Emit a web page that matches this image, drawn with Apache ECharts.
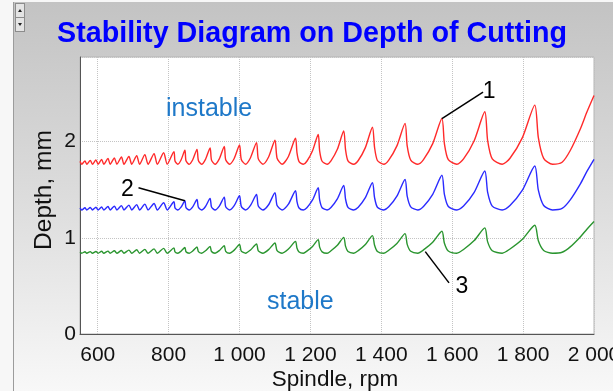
<!DOCTYPE html>
<html>
<head>
<meta charset="utf-8">
<script src="https://cdn.jsdelivr.net/npm/echarts@6/dist/echarts.min.js"></script>
<style>
html, body { margin: 0; padding: 0; background: #f7f7f7; }
.frame {
  position: absolute; left: 13px; top: 2px; width: 600px; height: 389px;
  border-left: 1px solid #9c9c9c;
  background: linear-gradient(to bottom, #c3c3c3 0%, #dcdcdc 50%, #f8f8f8 100%);
}
.spin {
  position: absolute; left: 15px; top: 3px; width: 8px; height: 27px;
  border: 1px solid #8c8c8c; background: #e4e4e4;
}
.spin i {
  position: absolute; left: 2px; width: 0; height: 0;
  border-left: 2px solid transparent; border-right: 2px solid transparent;
}
.spin .up { top: 5px; border-bottom: 3px solid #222; }
.spin .down { top: 19px; border-top: 3px solid #222; }
.spin .mid { position: absolute; left: 0; top: 13px; width: 8px; height: 1px; background: #8c8c8c; }
#chart { position: absolute; left: 0; top: 0; width: 613px; height: 391px; }
</style>
</head>
<body>
<div class="frame"></div>
<div class="spin"><i class="up"></i><span class="mid"></span><i class="down"></i></div>
<div id="chart"></div>
<script>
// spindle speed, rpm (lobe cusps and points on the lobes between them)
var rpm = [550,
  555, 564, 569, 579, 585, 595, 601, 611, 617, 629, 635, 647, 654, 667, 674, 688, 696, 710, 718, 733, 742, 759, 768, 786, 796, 815,
  818, 826, 835, 846, 849, 858, 868, 880, 884, 893, 904, 917, 921, 931, 943, 957, 961, 972, 985, 1000,
  1005, 1017, 1031, 1048, 1053, 1066, 1082, 1100, 1106, 1120, 1138, 1158,
  1162, 1168, 1180, 1190, 1206, 1222, 1226, 1233, 1247, 1258, 1276, 1294, 1299, 1306, 1322, 1335, 1355, 1375,
  1381, 1389, 1407, 1421, 1444, 1467, 1473, 1483, 1503, 1519, 1545, 1571, 1578, 1589, 1613, 1632, 1662, 1692,
  1700, 1713, 1741, 1763, 1798, 1833,
  1843, 1858, 1883, 1910, 1933, 1962, 1980, 2000]

// depth of cutting, mm
var curve1 = [1.795,
  1.765, 1.80, 1.765, 1.805, 1.765, 1.81, 1.765, 1.815, 1.765, 1.825, 1.765, 1.83, 1.765, 1.84, 1.765, 1.845, 1.765, 1.855, 1.765, 1.865, 1.765, 1.875, 1.765, 1.885, 1.765, 1.895,
  1.798, 1.765, 1.809, 1.91, 1.801, 1.765, 1.812, 1.92, 1.804, 1.765, 1.816, 1.935, 1.808, 1.765, 1.821, 1.95, 1.811, 1.765, 1.825, 1.965,
  1.815, 1.765, 1.833, 1.99, 1.821, 1.765, 1.84, 2.015, 1.828, 1.765, 1.846, 2.035,
  1.887, 1.792, 1.765, 1.796, 1.905, 2.075, 1.905, 1.796, 1.765, 1.80, 1.92, 2.11, 1.92, 1.80, 1.765, 1.804, 1.938, 2.15,
  1.938, 1.804, 1.765, 1.808, 1.956, 2.19, 1.956, 1.808, 1.765, 1.813, 1.979, 2.24, 1.979, 1.812, 1.765, 1.82, 2.01, 2.31,
  2.01, 1.82, 1.765, 1.827, 2.042, 2.38,
  2.042, 1.826, 1.765, 1.786, 1.908, 2.137, 2.308, 2.48]

var curve2 = [1.31,
  1.29, 1.312, 1.29, 1.315, 1.29, 1.318, 1.29, 1.32, 1.29, 1.325, 1.29, 1.33, 1.29, 1.335, 1.29, 1.34, 1.29, 1.345, 1.29, 1.35, 1.29, 1.357, 1.29, 1.365, 1.29, 1.375,
  1.311, 1.29, 1.319, 1.385, 1.314, 1.29, 1.322, 1.398, 1.317, 1.29, 1.326, 1.41, 1.32, 1.29, 1.33, 1.423, 1.323, 1.29, 1.334, 1.437,
  1.327, 1.29, 1.338, 1.45, 1.33, 1.29, 1.344, 1.47, 1.335, 1.29, 1.35, 1.49,
  1.38, 1.31, 1.29, 1.313, 1.394, 1.52, 1.394, 1.313, 1.29, 1.316, 1.405, 1.545, 1.405, 1.316, 1.29, 1.318, 1.417, 1.573,
  1.417, 1.318, 1.29, 1.322, 1.433, 1.607, 1.433, 1.322, 1.29, 1.326, 1.452, 1.65, 1.452, 1.326, 1.29, 1.33, 1.472, 1.694,
  1.472, 1.33, 1.29, 1.336, 1.495, 1.746,
  1.495, 1.336, 1.29, 1.306, 1.395, 1.564, 1.69, 1.816]

var curve3 = [0.853,
  0.84, 0.855, 0.84, 0.856, 0.84, 0.858, 0.84, 0.86, 0.84, 0.862, 0.84, 0.865, 0.84, 0.868, 0.84, 0.872, 0.84, 0.876, 0.84, 0.88, 0.84, 0.885, 0.84, 0.89, 0.84, 0.895,
  0.854, 0.84, 0.861, 0.90, 0.855, 0.84, 0.863, 0.905, 0.856, 0.84, 0.865, 0.91, 0.858, 0.84, 0.867, 0.918, 0.86, 0.84, 0.872, 0.93,
  0.862, 0.84, 0.874, 0.936, 0.864, 0.84, 0.877, 0.946, 0.866, 0.84, 0.883, 0.963,
  0.895, 0.852, 0.84, 0.861, 0.91, 0.981, 0.903, 0.854, 0.84, 0.865, 0.922, 1.005, 0.914, 0.857, 0.84, 0.867, 0.931, 1.023,
  0.922, 0.858, 0.84, 0.871, 0.942, 1.044, 0.932, 0.86, 0.84, 0.874, 0.954, 1.068, 0.943, 0.863, 0.84, 0.879, 0.971, 1.103,
  0.958, 0.866, 0.84, 0.884, 0.985, 1.13,
  0.97, 0.869, 0.84, 0.85, 0.906, 1.012, 1.09, 1.17]

// callouts: [label, from point, to point, label offset from line end in px]
var callout1 = ['1', [1571, 2.24], [1687, 2.516], [6, 0]]
var callout2 = ['2', [846, 1.385], [715, 1.521], [-11, 2]]
var callout3 = ['3', [1524, 0.856], [1591, 0.532], [13, 4]]
var callouts = [callout1, callout2, callout3]

var FONT = 'Liberation Sans, Arial, sans-serif'

function pairs (ys) {
  return rpm.map(function (x, i) { return [x, ys[i]] })
}

function fmtRpm (v) {
  if (v < 1000) return String(v)
  var r = String(v % 1000)
  while (r.length < 3) r = '0' + r
  return Math.floor(v / 1000) + ' ' + r
}

function callout (c) {
  return {
    silent: true,
    symbol: ['none', 'none'],
    animation: false,
    lineStyle: { color: '#000', width: 1.5, type: 'solid' },
    label: { show: false },
    data: [[{ coord: c[1] }, { coord: c[2] }]]
  }
}

function lineSeries (name, ys, color, c) {
  return {
    name: name,
    type: 'line',
    data: pairs(ys),
    showSymbol: false,
    symbol: 'none',
    smooth: 0.25,
    lineStyle: { color: color, width: 1.4 },
    markLine: callout(c)
  }
}

var myChart = echarts.init(document.getElementById('chart'))
var option = {
  animation: false,
  backgroundColor: 'transparent',
  title: {
    text: 'Stability Diagram on Depth of Cutting',
    left: 57,
    top: 20,
    padding: 0,
    textStyle: { color: '#0000ff', fontFamily: FONT, fontWeight: 'bold', fontSize: 28.7 }
  },
  grid: {
    left: 80,
    right: 19,
    top: 57,
    bottom: 57,
    outerBoundsMode: 'none',
    containLabel: false,
    show: true,
    backgroundColor: '#fff',
    borderColor: '#b4b4b4',
    borderWidth: 1
  },
  xAxis: {
    type: 'value',
    min: 550,
    max: 2000,
    splitNumber: 7,
    name: 'Spindle, rpm',
    nameLocation: 'middle',
    nameGap: 34,
    nameMoveOverlap: false,
    nameTextStyle: { color: '#111', fontFamily: FONT, fontSize: 22.5, padding: [0, 4, 0, 0] },
    axisLine: { show: true, onZero: false, lineStyle: { color: '#555', width: 1 } },
    axisTick: { show: false },
    axisLabel: {
      color: '#111', fontFamily: FONT, fontSize: 21, margin: 11,
      showMinLabel: false, formatter: fmtRpm
    },
    splitLine: { show: true, lineStyle: { color: '#c4c4c4', type: 'dotted', width: 1 } }
  },
  yAxis: {
    type: 'value',
    min: 0,
    max: 2.88,
    interval: 1,
    name: 'Depth, mm',
    nameLocation: 'middle',
    nameGap: 23,
    nameMoveOverlap: false,
    nameTextStyle: { color: '#111', fontFamily: FONT, fontSize: 24.5, padding: [0, 0, 0, 11] },
    axisLine: { show: true, lineStyle: { color: '#555', width: 1 } },
    axisTick: { show: false },
    axisLabel: { color: '#111', fontFamily: FONT, fontSize: 21, margin: 4, showMaxLabel: false },
    splitLine: { show: true, lineStyle: { color: '#c4c4c4', type: 'dotted', width: 1 } }
  },
  series: [
    lineSeries('1', curve1, '#ff2a2a', callout1),
    lineSeries('2', curve2, '#2a2aff', callout2),
    lineSeries('3', curve3, '#2a952f', callout3)
  ]
}
myChart.setOption(option)

// region names and callout numbers
var texts = [
  { type: 'text', left: 166, top: 97, style: { text: 'instable', fill: '#1e78c8', font: '25px ' + FONT } },
  { type: 'text', left: 267, top: 290, style: { text: 'stable', fill: '#1e78c8', font: '25px ' + FONT } }
]
callouts.forEach(function (c) {
  var p = myChart.convertToPixel({ seriesIndex: 0 }, c[2])
  texts.push({
    type: 'text',
    x: p[0] + c[3][0],
    y: p[1] + c[3][1],
    style: {
      text: c[0], fill: '#000', font: '23px ' + FONT,
      align: 'center', verticalAlign: 'middle'
    }
  })
})
myChart.setOption({ graphic: texts })
</script>
</body>
</html>
